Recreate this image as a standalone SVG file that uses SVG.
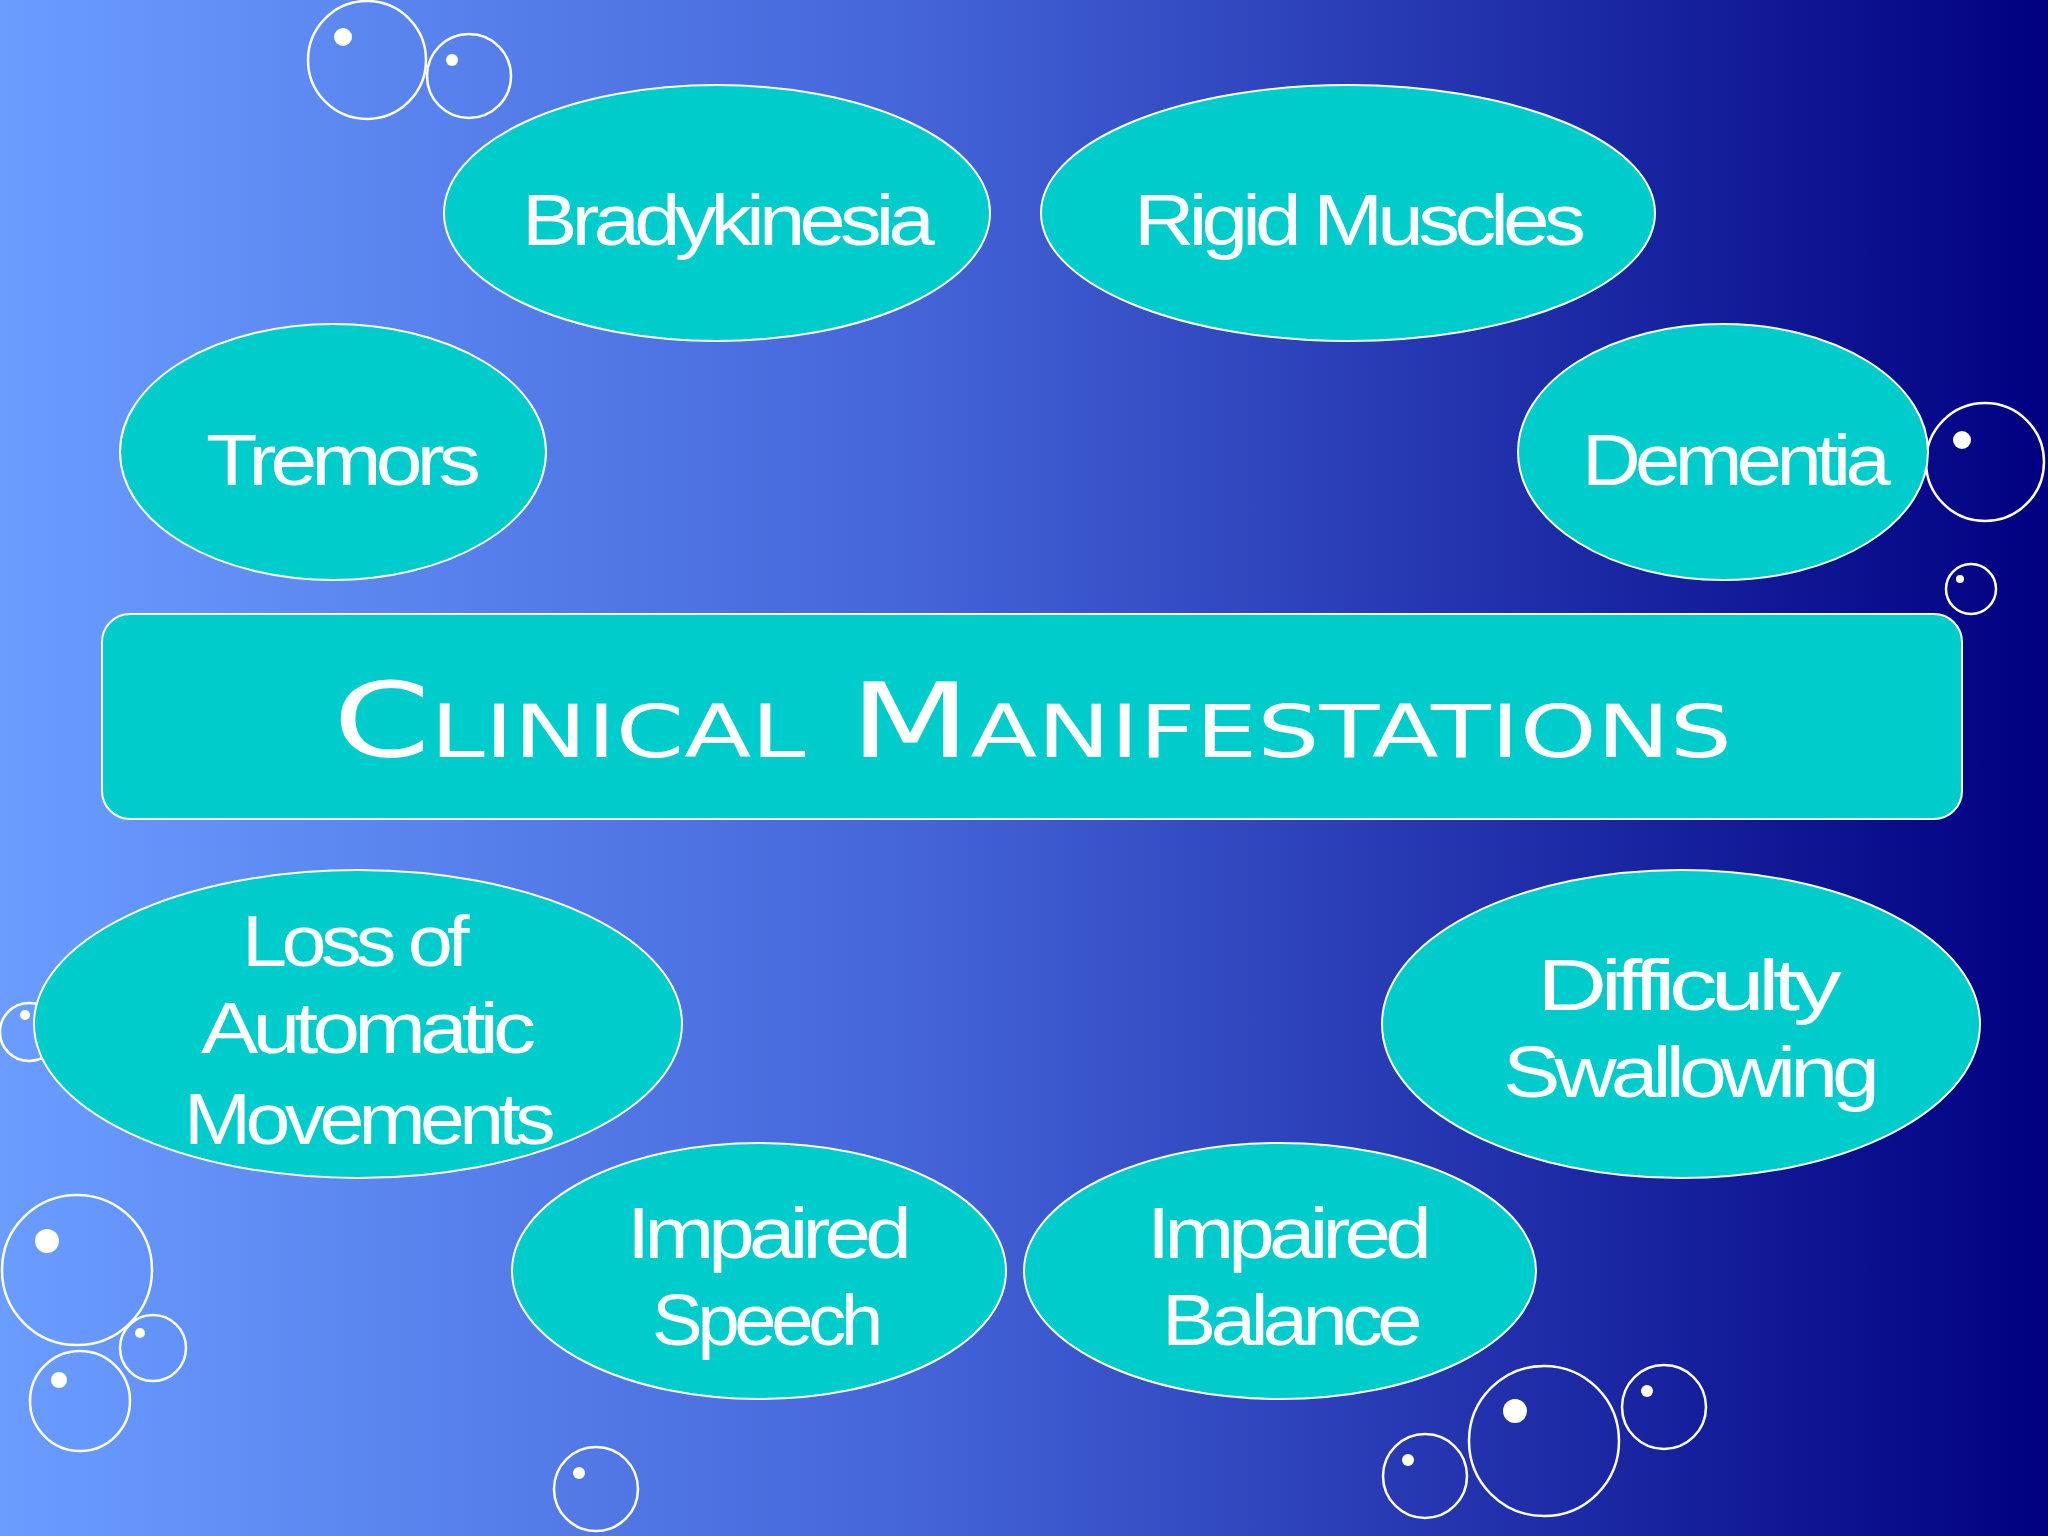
<svg xmlns="http://www.w3.org/2000/svg" width="2048" height="1536" viewBox="0 0 2048 1536">
<defs>
<linearGradient id="bg" x1="0" y1="0" x2="1" y2="0">
<stop offset="0" stop-color="#6A9DFF"/>
<stop offset="0.45" stop-color="#4464D8"/>
<stop offset="1" stop-color="#000080"/>
</linearGradient>
<style>
.n{fill:#00CCCC;stroke:#FFFFFF;stroke-width:2}
.t{font-family:"Liberation Sans",Arial,sans-serif;font-size:72px;fill:#FFFFFF;letter-spacing:-5px}
.b{fill:none;stroke:#FFFFFF;stroke-width:2.5}
.d{fill:#FFFFFF}
</style>
</defs>
<rect width="2048" height="1536" fill="url(#bg)"/>
<g id="bubbles">
<circle class="b" cx="367" cy="60" r="59"/><circle class="d" cx="343" cy="37" r="9"/>
<circle class="b" cx="469" cy="76" r="42"/><circle class="d" cx="452" cy="60" r="6"/>
<circle class="b" cx="1985" cy="462" r="59"/><circle class="d" cx="1962" cy="440" r="9"/>
<circle class="b" cx="1971" cy="589" r="25"/><circle class="d" cx="1960" cy="579" r="4"/>
<circle class="b" cx="29" cy="1032" r="29"/><circle class="d" cx="25" cy="1015" r="5"/>
<circle class="b" cx="77" cy="1270" r="75"/><circle class="d" cx="47" cy="1241" r="12"/>
<circle class="b" cx="153" cy="1348" r="33"/><circle class="d" cx="140" cy="1333" r="5"/>
<circle class="b" cx="80" cy="1401" r="50"/><circle class="d" cx="59" cy="1380" r="8"/>
<circle class="b" cx="596" cy="1489" r="42"/><circle class="d" cx="579" cy="1473" r="6"/>
<circle class="b" cx="1544" cy="1441" r="75"/><circle class="d" cx="1515" cy="1411" r="12"/>
<circle class="b" cx="1664" cy="1407" r="42"/><circle class="d" cx="1647" cy="1391" r="6"/>
<circle class="b" cx="1425" cy="1476" r="42"/><circle class="d" cx="1408" cy="1460" r="6"/>
</g>
<g id="connectors"></g>
<g id="bradykinesia"><ellipse class="n" cx="717" cy="213" rx="273" ry="128"/><text class="t" x="522" y="245" textLength="407" lengthAdjust="spacingAndGlyphs">Bradykinesia</text></g>
<g id="rigid"><ellipse class="n" cx="1348" cy="213" rx="307" ry="128"/><text class="t" x="1134" y="245" textLength="446" lengthAdjust="spacingAndGlyphs">Rigid Muscles</text></g>
<g id="tremors"><ellipse class="n" cx="333" cy="452" rx="213" ry="128"/><text class="t" x="206" y="485" textLength="269" lengthAdjust="spacingAndGlyphs">Tremors</text></g>
<g id="dementia"><ellipse class="n" cx="1723" cy="452" rx="205" ry="128"/><text class="t" x="1582" y="485" textLength="303" lengthAdjust="spacingAndGlyphs">Dementia</text></g>
<g id="title"><rect class="n" x="102" y="614" width="1860" height="205" rx="28"/><text x="333" y="757" textLength="1399" lengthAdjust="spacingAndGlyphs" style="font-family:'DejaVu Sans',sans-serif;font-size:104px;font-variant:small-caps;fill:#fff">Clinical Manifestations</text></g>
<g id="loss"><ellipse class="n" cx="358" cy="1024" rx="324" ry="154"/>
<text class="t" x="242" y="966" textLength="222" lengthAdjust="spacingAndGlyphs">Loss of</text>
<text class="t" x="201" y="1053" textLength="329" lengthAdjust="spacingAndGlyphs">Automatic</text>
<text class="t" x="184" y="1144" textLength="366" lengthAdjust="spacingAndGlyphs">Movements</text></g>
<g id="difficulty"><ellipse class="n" cx="1681" cy="1024" rx="299" ry="154"/>
<text class="t" x="1537" y="1010" textLength="298" lengthAdjust="spacingAndGlyphs">Difficulty</text>
<text class="t" x="1503" y="1097" textLength="371" lengthAdjust="spacingAndGlyphs">Swallowing</text></g>
<g id="speech"><ellipse class="n" cx="759" cy="1271" rx="247" ry="128"/>
<text class="t" x="627" y="1258" textLength="279" lengthAdjust="spacingAndGlyphs">Impaired</text>
<text class="t" x="652" y="1345" textLength="226" lengthAdjust="spacingAndGlyphs">Speech</text></g>
<g id="balance"><ellipse class="n" cx="1280" cy="1271" rx="256" ry="128"/>
<text class="t" x="1147" y="1258" textLength="279" lengthAdjust="spacingAndGlyphs">Impaired</text>
<text class="t" x="1162" y="1345" textLength="255" lengthAdjust="spacingAndGlyphs">Balance</text></g>
</svg>
